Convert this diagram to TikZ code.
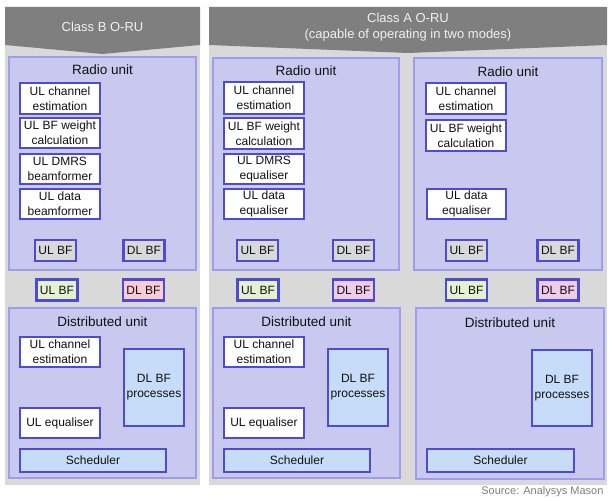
\documentclass[tikz,border=0pt]{standalone}
\usepackage{fontspec}
\setmainfont{Liberation Sans}
\definecolor{hdr}{HTML}{7F7F7F}
\definecolor{pan}{HTML}{D9D9D9}
\definecolor{ruf}{HTML}{C9C8EF}
\definecolor{rub}{HTML}{9F9CF0}
\definecolor{bxb}{HTML}{4F4AD6}
\definecolor{bluef}{HTML}{C6DCF8}
\definecolor{grnf}{HTML}{E4F2CF}
\definecolor{pnkf}{HTML}{FBCCD6}
\definecolor{pnkf2}{HTML}{F0CCE8}
\definecolor{txt}{HTML}{111111}
\tikzset{
  panel/.style={fill=pan, draw=none},
  header/.style={fill=hdr, draw=none},
  unitbox/.style={fill=ruf, draw=rub, line width=2pt, inner sep=0pt},
  wbox/.style={fill=white, draw=bxb, line width=2.6pt, inner sep=0pt, align=center,
    font=\fontsize{12}{15}\selectfont, text=txt},
  gbox/.style={wbox, fill=pan, minimum width=41, minimum height=21},
  bbox/.style={wbox, fill=bluef},
  title/.style={font=\fontsize{13.5}{15}\selectfont, text=txt},
  htext/.style={font=\fontsize{13}{16}\selectfont, text=white!94!black, align=center}
}
\begin{document}
\begin{tikzpicture}[x=1pt,y=-1pt]
\useasboundingbox (0,0) rectangle (612,500);
\fill[white] (0,0) rectangle (612,500);
% panels
\fill[panel] (5,7) rectangle (200,485);
\fill[panel] (209,7) rectangle (607,485);
\fill[header] (5,7) -- (200,7) -- (200,45) -- (102.5,54) -- (5,45) -- cycle;
\fill[header] (209,7) -- (607,7) -- (607,45) -- (408,53) -- (209,45) -- cycle;
\node[htext] (hB) at (102.5,27) {Class B O-RU};
\node[htext] (hA) at (408,27) {Class A O-RU\\(capable of operating in two modes)};
% ---------- Class B ----------
\node[unitbox, minimum width=187, minimum height=213] (ruB) at (102.5,163.5) {};
\node[title] (ruBt) at (102.5,70) {Radio unit};
\node[wbox, minimum width=80, minimum height=31] (bce) at (60,98.5) {UL channel\\estimation};
\node[wbox, minimum width=80, minimum height=30] (bbw) at (60,133) {UL BF weight\\calculation};
\node[wbox, minimum width=80, minimum height=30] (bdm) at (60,169) {UL DMRS\\beamformer};
\node[wbox, minimum width=80, minimum height=30] (bdb) at (60,204) {UL data\\beamformer};
\node[gbox] (bul) at (55.5,250.5) {UL BF};
\node[gbox] (bdl) at (144,250.5) {DL BF};
\node[gbox, fill=grnf] (boul) at (57,290) {UL BF};
\node[gbox, fill=pnkf] (bodl) at (143.5,290) {DL BF};
\node[unitbox, minimum width=187, minimum height=170] (duB) at (102.5,393) {};
\node[title] (duBt) at (102.5,322) {Distributed unit};
\node[wbox, minimum width=80, minimum height=30] (dce) at (60,352) {UL channel\\estimation};
\node[wbox, minimum width=80, minimum height=30] (deq) at (60,423) {UL equaliser};
\node[bbox, minimum width=60, minimum height=77] (dlp) at (154,387.5) {DL BF\\processes};
\node[bbox, minimum width=146, minimum height=23] (dsc) at (93,460.5) {Scheduler};
% ---------- Class A, mode 1 ----------
\node[unitbox, minimum width=186, minimum height=212] (ruA) at (306,164) {};
\node[title] (ruAt) at (306,71) {Radio unit};
\node[wbox, minimum width=80, minimum height=32] (ace) at (264,98) {UL channel\\estimation};
\node[wbox, minimum width=80, minimum height=31] (abw) at (264,133.5) {UL BF weight\\calculation};
\node[wbox, minimum width=80, minimum height=30] (adm) at (264,169) {UL DMRS\\equaliser};
\node[wbox, minimum width=80, minimum height=30] (adb) at (264,204) {UL data\\equaliser};
\node[gbox] (aul) at (257.5,250.5) {UL BF};
\node[gbox] (adl) at (353.5,250.5) {DL BF};
\node[gbox, fill=grnf] (aoul) at (258,290) {UL BF};
\node[gbox, fill=pnkf2] (aodl) at (353.5,290) {DL BF};
\node[unitbox, minimum width=187, minimum height=170] (duA) at (306.5,393) {};
\node[title] (duAt) at (306.5,322) {Distributed unit};
\node[wbox, minimum width=80, minimum height=30] (ace2) at (264,352) {UL channel\\estimation};
\node[wbox, minimum width=80, minimum height=30] (aeq) at (264,423) {UL equaliser};
\node[bbox, minimum width=60, minimum height=77] (alp) at (358,387.5) {DL BF\\processes};
\node[bbox, minimum width=146, minimum height=23] (asc) at (297,460.5) {Scheduler};
% ---------- Class A, mode 2 ----------
\node[unitbox, minimum width=188, minimum height=212] (ruC) at (508,164) {};
\node[title] (ruCt) at (508,72) {Radio unit};
\node[wbox, minimum width=80, minimum height=31] (cce) at (466,98.5) {UL channel\\estimation};
\node[wbox, minimum width=80, minimum height=31] (cbw) at (466,135.5) {UL BF weight\\calculation};
\node[wbox, minimum width=79, minimum height=30] (cdb) at (466.5,204) {UL data\\equaliser};
\node[gbox] (cul) at (466.5,250.5) {UL BF};
\node[gbox] (cdl) at (558,250.5) {DL BF};
\node[gbox, fill=grnf] (coul) at (466.5,290) {UL BF};
\node[gbox, fill=pnkf2] (codl) at (558,290) {DL BF};
\node[unitbox, minimum width=188, minimum height=171] (duC) at (510,393.5) {};
\node[title] (duCt) at (510,323) {Distributed unit};
\node[bbox, minimum width=60, minimum height=76] (clp) at (562,388) {DL BF\\processes};
\node[bbox, minimum width=147, minimum height=23] (csc) at (500.5,460.5) {Scheduler};
% source
\node[anchor=east, font=\fontsize{11}{12}\selectfont, text=black!50] (src) at (607,492) {Source: Analysys Mason};
\end{tikzpicture}
\end{document}
